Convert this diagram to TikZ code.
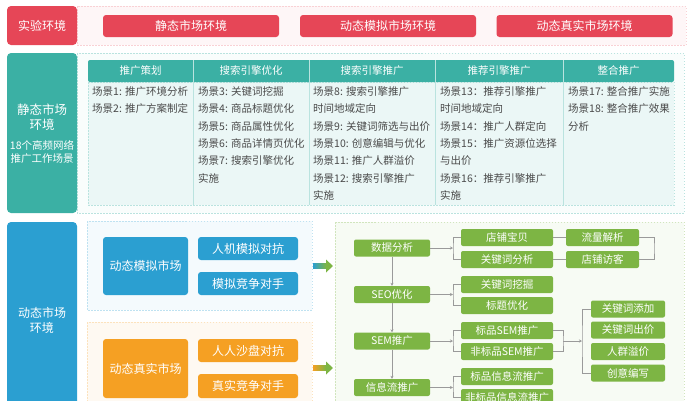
\documentclass[tikz,border=0pt]{standalone}
\usepackage{fontspec}
\setmainfont{Noto Sans CJK SC}
\usetikzlibrary{arrows.meta,calc}

\definecolor{myred}{HTML}{E64657}
\definecolor{myteal}{HTML}{3BB0A4}
\definecolor{myblue}{HTML}{2B9FD1}
\definecolor{myorange}{HTML}{F5A023}
\definecolor{mygreen}{HTML}{7DB544}
\definecolor{mygrey}{HTML}{9A9A9A}
\definecolor{mytext}{HTML}{4A4A4A}

\begin{document}
\begin{tikzpicture}[x=1pt,y=-1pt,
    lbl/.style={text=white, rounded corners=4pt, align=center, inner sep=0pt,
        minimum width=70pt, font=\fontsize{12}{15}\selectfont},
    btn/.style={text=white, rounded corners=3pt, inner sep=0pt,
        font=\fontsize{12}{14}\selectfont},
    gbox/.style={fill=mygreen, text=white, rounded corners=2pt, inner sep=0pt,
        minimum height=17pt, font=\fontsize{10.5}{12}\selectfont},
    frame/.style={dashed, line width=0.5pt, dash pattern=on 1.5pt off 1.5pt},
    conn/.style={draw=mygrey, line width=0.6pt},
    arr/.style={-{Stealth[length=3pt,width=3pt]}},
    cell/.style={anchor=north west, inner sep=0pt, align=left, text=mytext,
        font=\fontsize{10.5}{17.3}\selectfont},
    head/.style={text=white, font=\fontsize{10.5}{12}\selectfont}
]
    \useasboundingbox (0,0) rectangle (694,400);
    \clip (0,0) rectangle (694,400);

    % Experiment row
    \draw[frame, draw=myred!25, fill=myred!5] (77,6) rectangle (686,45);
    \node[lbl, fill=myred, minimum height=39pt] (syhj) at (42,25.5) {实验环境};
    \node[btn, fill=myred, minimum width=176pt, minimum height=22pt] (jthj) at (191,26) {静态市场环境};
    \node[btn, fill=myred, minimum width=176pt, minimum height=22pt] (mnhj) at (388,26) {动态模拟市场环境};
    \node[btn, fill=myred, minimum width=176pt, minimum height=22pt] (zshj) at (584.5,26) {动态真实市场环境};

    % Static market
    \draw[frame, draw=myteal!35, fill=myteal!3] (77,53) rectangle (684,213);
    \node[lbl, fill=myteal, minimum height=160pt] (jtsc) at (42,133) {};
    \node[text=white, align=center, font=\fontsize{12.5}{15}\selectfont] (jt1) at (42,117.5) {静态市场\\环境};
    \node[text=white, align=center, font=\fontsize{10.5}{13}\selectfont] (jt2) at (42,151.5) {18个高频网络\\推广工作场景};

    % Table
    \fill[myteal!10] (88,82) rectangle (674,205);
    \draw[frame, draw=myteal!35] (88,82) rectangle (674,205);
    \fill[myteal, rounded corners=2pt] (88,60) rectangle (674,82);
    \foreach \x in {193,309,435,563}
        \draw[myteal!35, line width=0.6pt] (\x,60) -- (\x,205);
    \node[head] (h1) at (140.5,71) {推广策划};
    \node[head] (h2) at (251,71) {搜索引擎优化};
    \node[head] (h3) at (372,71) {搜索引擎推广};
    \node[head] (h4) at (499,71) {推荐引擎推广};
    \node[head] (h5) at (618.5,71) {整合推广};
    \node[cell] (c1) at (92,86.5) {场景1: 推广环境分析\\场景2: 推广方案制定};
    \node[cell] (c2) at (198,86.5) {场景3: 关键词挖掘\\场景4: 商品标题优化\\场景5: 商品属性优化\\场景6: 商品详情页优化\\场景7: 搜索引擎优化\\实施};
    \node[cell] (c3) at (313,86.5) {场景8: 搜索引擎推广\\时间地域定向\\场景9: 关键词筛选与出价\\场景10: 创意编辑与优化\\场景11: 推广人群溢价\\场景12: 搜索引擎推广\\实施};
    \node[cell] (c4) at (440,86.5) {场景13：推荐引擎推广\\时间地域定向\\场景14：推广人群定向\\场景15：推广资源位选择\\与出价\\场景16：推荐引擎推广\\实施};
    \node[cell] (c5) at (568,86.5) {场景17: 整合推广实施\\场景18: 整合推广效果\\分析};

    % Dynamic market
    \node[lbl, fill=myblue, minimum height=196pt] (dtsc) at (42,320) {动态市场\\环境};
    \draw[frame, draw=myblue!30, fill=myblue!5] (87,221) rectangle (312,310);
    \node[btn, fill=myblue, minimum width=85pt, minimum height=58pt] (mnsc) at (145.5,266) {动态模拟市场};
    \node[btn, fill=myblue, minimum width=100pt, minimum height=23pt] (rjdk) at (248,248.5) {人机模拟对抗};
    \node[btn, fill=myblue, minimum width=100pt, minimum height=23pt] (mnjz) at (248,283.5) {模拟竞争对手};
    \draw[frame, draw=myorange!30, fill=myorange!6] (87,322) rectangle (312,420);
    \node[btn, fill=myorange, minimum width=85pt, minimum height=59pt] (zssc) at (145.5,368.5) {动态真实市场};
    \node[btn, fill=myorange, minimum width=100pt, minimum height=23pt] (rrdk) at (248,350.5) {人人沙盘对抗};
    \node[btn, fill=myorange, minimum width=100pt, minimum height=24pt] (zsjz) at (248,386) {真实竞争对手};

    % Fat arrows
    \fill[left color=myblue, right color=mygreen] (313,263.5) rectangle (326,268.5);
    \fill[mygreen] (326,259.5) -- (333,266) -- (326,272.5) -- cycle;
    \fill[left color=myorange, right color=mygreen] (313,365.5) rectangle (326,370.5);
    \fill[mygreen] (326,361.5) -- (333,368) -- (326,374.5) -- cycle;

    % Promotion flow
    \draw[frame, draw=mygreen!35, fill=mygreen!6] (335,222) rectangle (684,420);
    \node[gbox, minimum width=76pt] (sjfx) at (392,248) {数据分析};
    \node[gbox, minimum width=76pt] (seo) at (392,294.5) {SEO优化};
    \node[gbox, minimum width=76pt] (sem) at (392,341) {SEM推广};
    \node[gbox, minimum width=76pt] (xxl) at (392,387.5) {信息流推广};

    \node[gbox, minimum width=92pt] (dpbb) at (507,237.5) {店铺宝贝};
    \node[gbox, minimum width=92pt] (gjcfx) at (507,259.5) {关键词分析};
    \node[gbox, minimum width=92pt] (gjcwj) at (507,284.5) {关键词挖掘};
    \node[gbox, minimum width=92pt] (btyh) at (507,305.5) {标题优化};
    \node[gbox, minimum width=92pt] (bpsem) at (507,330.5) {标品SEM推广};
    \node[gbox, minimum width=92pt] (fbpsem) at (507,351.5) {非标品SEM推广};
    \node[gbox, minimum width=92pt] (bpxxl) at (507,376.5) {标品信息流推广};
    \node[gbox, minimum width=92pt] (fbpxxl) at (507,397.5) {非标品信息流推广};

    \node[gbox, minimum width=73pt] (llfx) at (602.5,237.5) {流量解析};
    \node[gbox, minimum width=73pt] (dpfk) at (602.5,259.5) {店铺访客};

    \node[gbox, minimum width=74pt] (gjctj) at (628,309) {关键词添加};
    \node[gbox, minimum width=74pt] (gjccj) at (628,330) {关键词出价};
    \node[gbox, minimum width=74pt] (rqyj) at (628,351.5) {人群溢价};
    \node[gbox, minimum width=74pt] (cybx) at (628,373) {创意编写};

    % Connectors
    \draw[conn, arr] (sjfx) -- (seo);
    \draw[conn, arr] (seo) -- (sem);
    \draw[conn, arr] (sem) -- (xxl);

    \coordinate (b1) at (453,248.5);
    \coordinate (b2) at (453,295);
    \coordinate (b3) at (453,341);
    \coordinate (b4) at (453,387);
    \draw[conn, arr] (sjfx) -- (sjfx -| b1);
    \draw[conn, arr] (seo) -- (seo -| b2);
    \draw[conn, arr] (sem) -- (sem -| b3);
    \draw[conn, arr] (xxl) -- (xxl -| b4);
    \draw[conn] (dpbb.west) -| (b1) |- (gjcfx.west);
    \draw[conn] (gjcwj.west) -| (b2) |- (btyh.west);
    \draw[conn] (bpsem.west) -| (b3) |- (fbpsem.west);
    \draw[conn] (bpxxl.west) -| (b4) |- (fbpxxl.west);

    \draw[conn] (dpbb) -- (llfx);
    \draw[conn] (gjcfx) -- (dpfk);
    \coordinate (b7) at (654,248.5);
    \draw[conn] (llfx.east) -| (b7) |- (dpfk.east);

    \coordinate (b5) at (563,341);
    \coordinate (b6) at (582,341);
    \draw[conn] (bpsem.east) -| (b5) |- (fbpsem.east);
    \draw[conn, arr] (b5) -- (b6);
    \draw[conn] (gjctj.west) -| (b6) |- (cybx.west);

\end{tikzpicture}
\end{document}
